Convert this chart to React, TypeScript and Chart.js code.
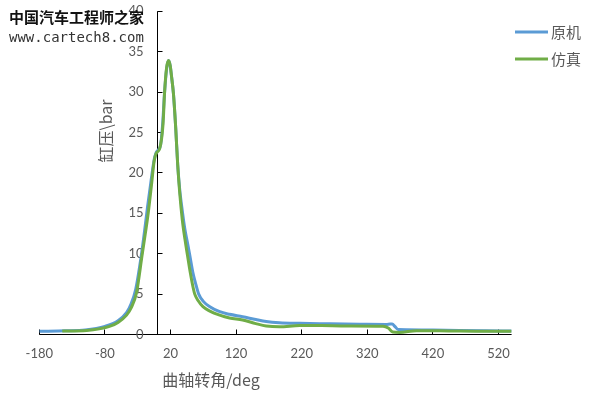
import React, { useEffect, useRef } from "react";
import { Chart, registerables } from "chart.js";

Chart.register(...registerables);

// ---- data ----
const seriesNames = ["原机", "仿真"];
const xTitle = "曲轴转角/deg";
const yTitle = "缸压\\bar";
const watermarkCn = "中国汽车工程师之家";
const watermarkUrl = "www.cartech8.com";

const xTicks = [-180, -80, 20, 120, 220, 320, 420, 520];
const yTicks = [0, 5, 10, 15, 20, 25, 30, 35, 40];

const origAngle = [
  -180, -140, -110, -80, -60, -47, -40, -33, -25, -20, -15, -10, -5, -2, 2, 5, 8, 11, 14, 17,
  19.5, 21.5, 24.5, 28, 31, 34, 38, 42, 46, 49, 54.3, 58, 63, 70, 80, 95, 110, 130, 150, 166,
  186, 217, 260, 308, 349, 355, 358, 362, 367, 380, 420, 460, 500, 540,
];
const origPressure = [
  0.4, 0.45, 0.55, 1.0, 1.7, 2.7, 3.8, 5.6, 9.5, 12.5, 15.8, 18.8, 21.6, 22.5, 22.9, 23.5, 26, 30, 32.8, 33.9,
  33.3, 32, 29.8, 25.5, 21, 18, 15.3, 13, 11.3, 10, 7.6, 6.4, 5, 4.1, 3.44, 2.82, 2.5, 2.2, 1.85, 1.6,
  1.45, 1.38, 1.33, 1.28, 1.25, 1.3, 1.3, 1.0, 0.62, 0.6, 0.56, 0.5, 0.46, 0.43,
];

const simAngle = [
  -145, -108, -73, -60, -47, -40, -32, -23, -18, -14, -9, -5, -2, 3.5, 8.6, 11, 14, 17, 19.5, 21.5,
  24.5, 28, 31, 34, 38, 42, 45.7, 50.3, 54, 57, 62, 69.5, 80, 95, 110, 130, 150, 166, 186, 217,
  250, 290, 344, 352, 359, 369, 395, 430, 461, 500, 540,
];
const simPressure = [
  0.42, 0.5, 1.0, 1.5, 2.4, 3.3, 5.1, 10, 12.7, 15, 18.5, 21.4, 22.4, 23, 26, 30, 33, 33.9, 33.3, 32,
  29.8, 25.5, 21, 17.6, 14.2, 11.8, 9.9, 7.6, 6.0, 5.0, 4.2, 3.44, 2.9, 2.4, 2.05, 1.8, 1.35, 1.05, 0.95, 1.12,
  1.1, 1.05, 1.02, 0.8, 0.3, 0.25, 0.47, 0.45, 0.42, 0.41, 0.4,
];

const BLUE = "#5B9BD5";
const GREEN = "#70AD47";
const TEXT = "#595959";
const TICK_FONT = "13px Lato, Carlito, Calibri, sans-serif";
const CJK_FONT = "'Noto Sans CJK SC', Lato, sans-serif";

const decorPlugin = {
  id: "decor",
  beforeDatasetsDraw(chart: any) {
    const ctx = chart.ctx;
    const xs = chart.scales.x;
    const ys = chart.scales.y;
    const y0 = Math.floor(ys.getPixelForValue(0)) + 0.5;
    const x0 = Math.floor(xs.getPixelForValue(0)) + 0.5;
    ctx.save();
    ctx.strokeStyle = "#000";
    ctx.lineWidth = 1;
    ctx.beginPath();
    ctx.moveTo(xs.getPixelForValue(-180), y0);
    ctx.lineTo(xs.getPixelForValue(540), y0);
    ctx.moveTo(x0, ys.getPixelForValue(40));
    ctx.lineTo(x0, y0);
    xTicks.forEach((v) => {
      const px = Math.floor(xs.getPixelForValue(v)) + 0.5;
      ctx.moveTo(px, y0);
      ctx.lineTo(px, y0 - 5);
    });
    yTicks.forEach((v) => {
      const py = Math.floor(ys.getPixelForValue(v)) + 0.5;
      ctx.moveTo(x0, py);
      ctx.lineTo(x0 + 5, py);
    });
    ctx.stroke();

    ctx.fillStyle = TEXT;
    ctx.font = TICK_FONT;
    ctx.textAlign = "center";
    ctx.textBaseline = "middle";
    xTicks.forEach((v) => {
      ctx.fillText(String(v), xs.getPixelForValue(v), 354);
    });
    ctx.textAlign = "right";
    yTicks.forEach((v) => {
      ctx.fillText(String(v), x0 - 14, ys.getPixelForValue(v));
    });

    ctx.font = "16px " + CJK_FONT;
    ctx.textAlign = "center";
    ctx.fillText(xTitle, 211, 380);
    ctx.save();
    ctx.translate(106, 131);
    ctx.rotate(-Math.PI / 2);
    ctx.fillText(yTitle, 0, 0);
    ctx.restore();
    ctx.restore();
  },
  afterDraw(chart: any) {
    const ctx = chart.ctx;
    ctx.save();
    // legend
    const items = [
      { name: seriesNames[0], color: BLUE, y: 32 },
      { name: seriesNames[1], color: GREEN, y: 59 },
    ];
    items.forEach((it) => {
      ctx.strokeStyle = it.color;
      ctx.lineWidth = 3;
      ctx.beginPath();
      ctx.moveTo(515, it.y);
      ctx.lineTo(548, it.y);
      ctx.stroke();
      ctx.fillStyle = TEXT;
      ctx.font = "15px " + CJK_FONT;
      ctx.textAlign = "left";
      ctx.textBaseline = "middle";
      ctx.fillText(it.name, 551, it.y);
    });
    // watermark
    ctx.fillStyle = "#111";
    ctx.font = "bold 15px " + CJK_FONT;
    ctx.textAlign = "left";
    ctx.textBaseline = "middle";
    ctx.fillText(watermarkCn, 9, 17);
    ctx.fillStyle = "#333";
    ctx.font = "14px 'DejaVu Sans Mono', monospace";
    ctx.fillText(watermarkUrl, 9, 38.5);
    ctx.restore();
  },
};

export default function App() {
  const ref = useRef<HTMLCanvasElement | null>(null);
  useEffect(() => {
    if (!ref.current) return;
    const chart = new Chart(ref.current, {
      type: "line",
      data: {
        datasets: [
          {
            label: seriesNames[0],
            data: origAngle.map((a, i) => ({ x: a, y: origPressure[i] })),
            borderColor: BLUE,
            backgroundColor: BLUE,
            borderWidth: 3,
            pointRadius: 0,
            cubicInterpolationMode: "monotone",
            order: 2,
          },
          {
            label: seriesNames[1],
            data: simAngle.map((a, i) => ({ x: a, y: simPressure[i] })),
            borderColor: GREEN,
            backgroundColor: GREEN,
            borderWidth: 3,
            pointRadius: 0,
            cubicInterpolationMode: "monotone",
            order: 1,
          },
        ],
      },
      options: {
        animation: false,
        responsive: true,
        maintainAspectRatio: false,
        layout: { padding: { left: 39.3, right: 77.4, top: 11.3, bottom: 60.5 } },
        plugins: { legend: { display: false }, tooltip: { enabled: false } },
        scales: {
          x: { type: "linear", min: -180, max: 540, display: false },
          y: { type: "linear", min: 0, max: 40, display: false },
        },
      },
      plugins: [decorPlugin],
    } as any);
    return () => chart.destroy();
  }, []);
  return (
    <div style={{ position: "absolute", left: 0, top: 0, width: 589, height: 395, background: "#fff" }}>
      <canvas ref={ref} />
    </div>
  );
}
